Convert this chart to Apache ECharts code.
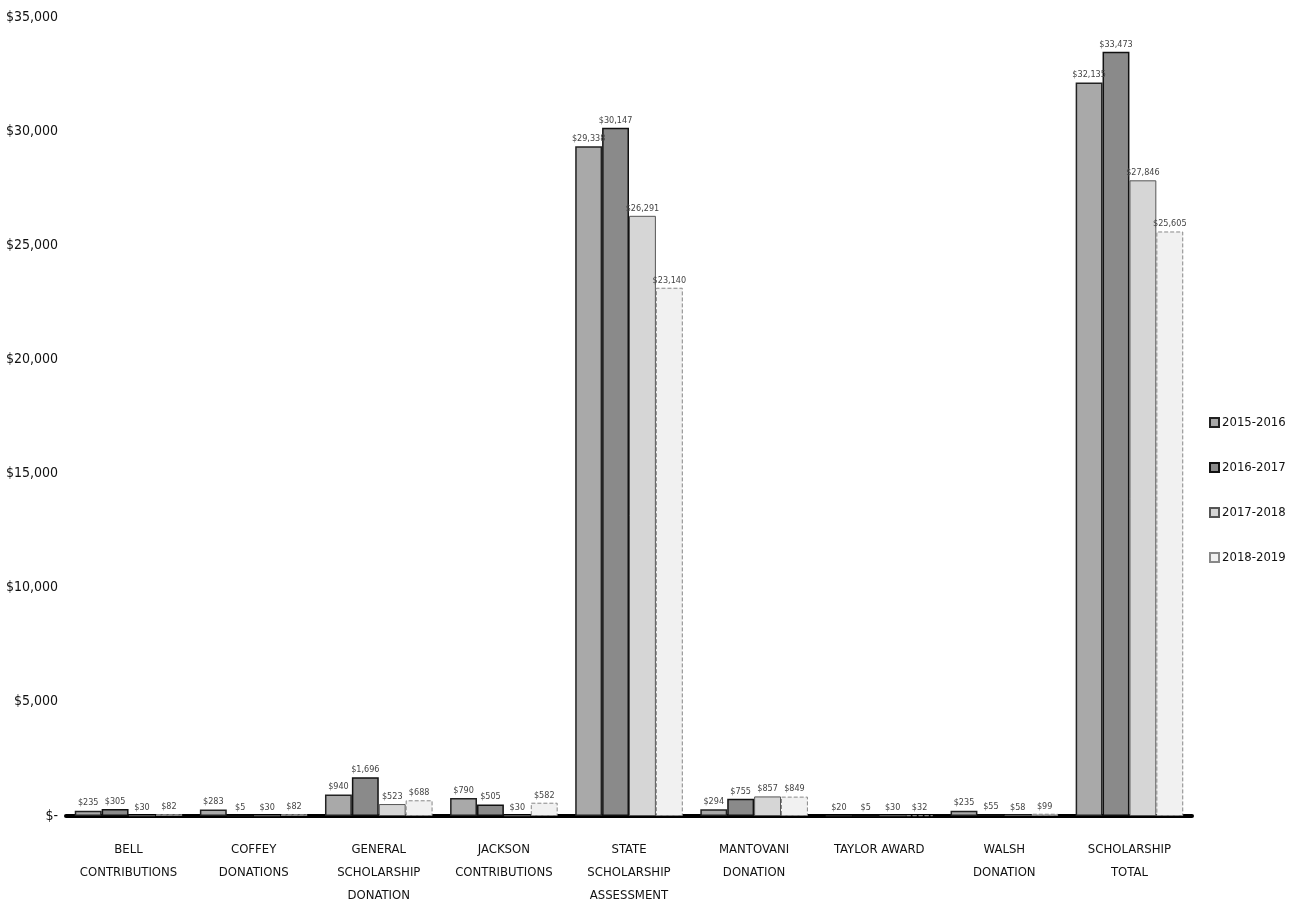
<!DOCTYPE html>
<html>
<head>
<meta charset="utf-8">
<title>Scholarship contributions</title>
<script src="https://cdn.jsdelivr.net/npm/echarts@6/dist/echarts.min.js"></script>
<style>
html, body { margin: 0; padding: 0; background: #fff; }
#chart { width: 1296px; height: 920px; }
</style>
</head>
<body>
<div id="chart"></div>
<script>
// categories (x axis)
var categories = [
    "BELL\nCONTRIBUTIONS",
    "COFFEY\nDONATIONS",
    "GENERAL\nSCHOLARSHIP\nDONATION",
    "JACKSON\nCONTRIBUTIONS",
    "STATE\nSCHOLARSHIP\nASSESSMENT",
    "MANTOVANI\nDONATION",
    "TAYLOR AWARD",
    "WALSH\nDONATION",
    "SCHOLARSHIP\nTOTAL"
];
var years = ["2015-2016", "2016-2017", "2017-2018", "2018-2019"];

// values per school year
var fy2015 = [235, 283, 940, 790, 29338, 294, 20, 235, 32135];
var fy2016 = [305, 5, 1696, 505, 30147, 755, 5, 55, 33473];
var fy2017 = [30, 30, 523, 30, 26291, 857, 30, 58, 27846];
var fy2018 = [82, 82, 688, 582, 23140, 849, 32, 99, 25605];

var yTicks = [0, 5000, 10000, 15000, 20000, 25000, 30000, 35000];

var font = "'Liberation Sans Narrow', 'DejaVu Sans Condensed', sans-serif";

function money(v) {
    if (v === 0) return "$-";
    return "$" + v.toLocaleString("en-US");
}

// gray fills, like the scanned copy
var styles = [
    { color: "#a9a9a9", borderColor: "#222", borderWidth: 1.5 },
    { color: "#8a8a8a", borderColor: "#111", borderWidth: 1.5 },
    { color: "#d6d6d6", borderColor: "#555", borderWidth: 1 },
    { color: "#f1f1f1", borderColor: "#888", borderWidth: 1, borderType: "dashed" }
];
var values = [fy2015, fy2016, fy2017, fy2018];

var series = years.map(function (name, i) {
    return {
        name: name,
        type: "bar",
        barGap: "0%",
        barCategoryGap: "14%",
        data: values[i],
        itemStyle: styles[i],
        label: {
            show: true,
            position: "top",
            distance: 3,
            fontSize: 9,
            fontFamily: font,
            color: "#444",
            formatter: function (p) { return money(p.value); }
        }
    };
});

var myChart = echarts.init(document.getElementById("chart"));
myChart.setOption({
    animation: false,
    textStyle: { fontFamily: font },
    grid: { left: 66, right: 104, top: 17, bottom: 104, containLabel: false },
    legend: {
        orient: "vertical",
        left: 1204,
        top: 411,
        icon: "rect",
        itemWidth: 9,
        itemHeight: 9,
        itemGap: 32,
        textStyle: { fontSize: 13, color: "#111", fontFamily: font, padding: [0, 0, 0, -2] },
        data: years
    },
    xAxis: {
        type: "category",
        data: categories,
        axisLine: { lineStyle: { color: "#000", width: 4 } },
        axisTick: { show: false },
        axisLabel: {
            interval: 0,
            margin: 22,
            fontSize: 13,
            lineHeight: 23,
            color: "#111",
            fontFamily: font
        }
    },
    yAxis: {
        type: "value",
        min: yTicks[0],
        max: yTicks[yTicks.length - 1],
        interval: 5000,
        splitLine: { show: false },
        axisLine: { show: false },
        axisTick: { show: false },
        axisLabel: {
            margin: 8,
            fontSize: 14,
            color: "#111",
            fontFamily: font,
            formatter: money
        }
    },
    series: series
});
window.addEventListener("resize", function () {
    myChart.resize();
});
</script>
</body>
</html>
